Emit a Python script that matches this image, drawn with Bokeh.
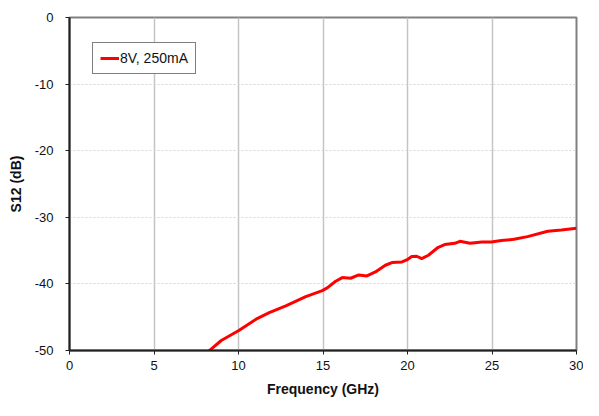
from bokeh.plotting import figure
from bokeh.models import Range1d, FixedTicker, Legend, LegendItem, CustomJSTickFormatter
from bokeh.embed import file_html
from bokeh.resources import INLINE

freq_ghz = [8.19, 8.98, 10.02, 11.04, 11.82, 12.8, 13.98, 14.96, 15.25, 15.75, 16.14,
            16.63, 17.12, 17.6, 18.1, 18.69, 19.08, 19.67, 19.96, 20.25, 20.55, 20.84,
            21.24, 21.82, 22.2, 22.8, 23.1, 23.7, 24.4, 24.96, 25.55, 26.3, 27.1,
            28.3, 29.1, 30.0]
s12_db = [-50.2, -48.5, -47.0, -45.3, -44.3, -43.3, -41.9, -41.0, -40.6, -39.6, -39.05,
          -39.15, -38.65, -38.8, -38.2, -37.2, -36.8, -36.7, -36.4, -35.9, -35.85, -36.2,
          -35.7, -34.5, -34.1, -33.9, -33.6, -33.9, -33.7, -33.7, -33.5, -33.3, -32.9,
          -32.1, -31.9, -31.65]
series_label = "8V, 250mA"
x_ticks = [0, 5, 10, 15, 20, 25, 30]
y_ticks = [0, -10, -20, -30, -40, -50]

FONT = "Liberation Sans"

p = figure(width=583, height=400, output_backend="svg", toolbar_location=None,
           x_range=Range1d(0, 30), y_range=Range1d(-50, 0),
           min_border_left=69, min_border_right=7, min_border_top=17, min_border_bottom=50)
p.background_fill_color = "white"
p.border_fill_color = "white"
p.outline_line_color = "#808080"
p.outline_line_width = 2

r = p.line(freq_ghz, s12_db, line_color="#ff0000", line_width=3)

p.xaxis.ticker = FixedTicker(ticks=x_ticks)
p.yaxis.ticker = FixedTicker(ticks=y_ticks)
for ax in (p.xaxis, p.yaxis):
    ax.formatter = CustomJSTickFormatter(code="return String(tick);")
    ax.axis_line_color = "#202020"
    ax.axis_line_width = 2
    ax.major_tick_line_color = "#202020"
    ax.major_tick_line_width = 1
    ax.major_tick_out = 4
    ax.major_tick_in = 0
    ax.minor_tick_line_color = None
    ax.major_label_text_font = FONT
    ax.major_label_text_font_size = "13px"
    ax.major_label_text_color = "#111111"
    ax.axis_label_text_font = FONT
    ax.axis_label_text_font_size = "14px"
    ax.axis_label_text_font_style = "bold"
    ax.axis_label_text_color = "#111111"
p.xaxis.axis_label = "Frequency (GHz)"
p.yaxis.axis_label = "S12 (dB)"
p.xaxis.axis_label_standoff = 8
p.yaxis.axis_label_standoff = 8
p.xaxis.major_label_standoff = 6
p.yaxis.major_label_standoff = 12

p.xgrid.ticker = FixedTicker(ticks=x_ticks)
p.ygrid.ticker = FixedTicker(ticks=y_ticks)
p.xgrid.grid_line_color = "#c4c4c4"
p.xgrid.grid_line_width = 1.5
p.ygrid.grid_line_color = "#d4d4d4"
p.ygrid.grid_line_dash = "2 2"
p.ygrid.grid_line_width = 1

legend = Legend(items=[LegendItem(label=series_label, renderers=[r])],
                location=(23, 276))
legend.border_line_color = "black"
legend.border_line_width = 1
legend.background_fill_color = "white"
legend.background_fill_alpha = 1
legend.label_text_font = FONT
legend.label_text_font_size = "14px"
legend.label_text_color = "#111111"
legend.glyph_width = 19
legend.glyph_height = 12
legend.label_standoff = 1
legend.padding = 7
legend.margin = 0
legend.spacing = 0
legend.label_height = 12
p.add_layout(legend, "center")

open("out.html", "w").write(file_html(p, INLINE))
